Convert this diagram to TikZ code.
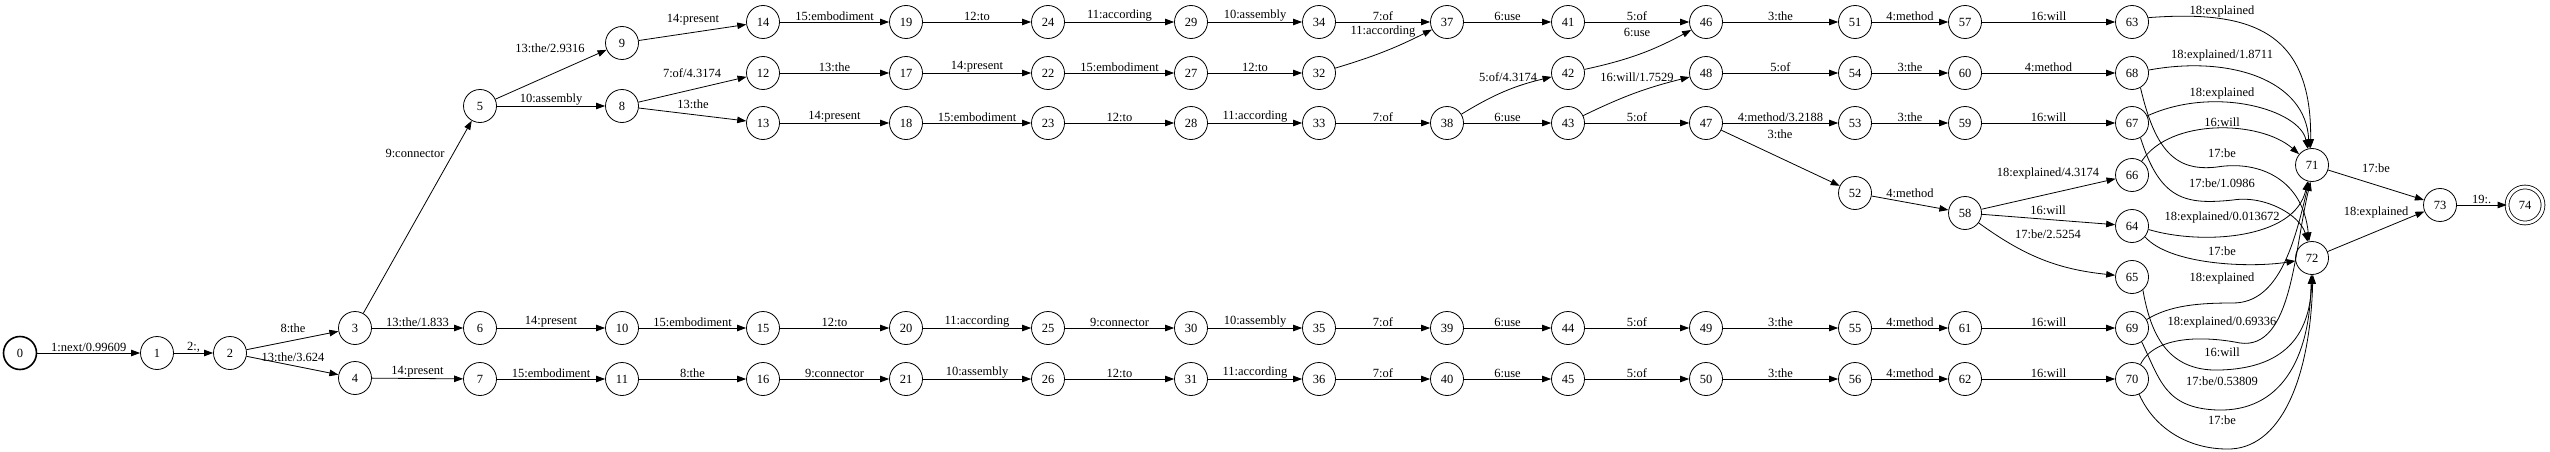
\documentclass[tikz,border=0pt]{standalone}
\usepackage{fontspec}
\setmainfont{Liberation Serif}
\usetikzlibrary{arrows.meta}
\newcommand\fstfont{\fontsize{12.5}{14}\selectfont}
\tikzset{
  st/.style={circle, draw, line width=0.8pt, minimum size=33pt, inner sep=0pt, font=\fstfont},
  tr/.style={-{Triangle[length=9pt,width=6.5pt]}, line width=0.8pt},
  lab/.style={inner sep=0.5pt, font=\fstfont}
}
\begin{document}
\begin{tikzpicture}[x=1pt,y=1pt]
  \useasboundingbox (0,0) rectangle (2550,-452);
  % states
  \node[st, line width=1.6pt] (s0) at (20,-353) {0};
  \node[st] (s1) at (157,-353) {1};
  \node[st] (s2) at (230,-353) {2};
  \node[st] (s3) at (355,-328) {3};
  \node[st] (s4) at (355,-378) {4};
  \node[st] (s5) at (480,-106) {5};
  \node[st] (s6) at (480,-328) {6};
  \node[st] (s7) at (480,-379) {7};
  \node[st] (s8) at (622,-106) {8};
  \node[st] (s9) at (622,-43) {9};
  \node[st] (s10) at (622,-328) {10};
  \node[st] (s11) at (622,-379) {11};
  \node[st] (s12) at (763,-73) {12};
  \node[st] (s13) at (763,-123) {13};
  \node[st] (s14) at (763,-22) {14};
  \node[st] (s15) at (763,-328) {15};
  \node[st] (s16) at (763,-379) {16};
  \node[st] (s17) at (906,-73) {17};
  \node[st] (s18) at (906,-123) {18};
  \node[st] (s19) at (906,-22) {19};
  \node[st] (s20) at (906,-328) {20};
  \node[st] (s21) at (906,-379) {21};
  \node[st] (s22) at (1048,-73) {22};
  \node[st] (s23) at (1048,-123) {23};
  \node[st] (s24) at (1048,-22) {24};
  \node[st] (s25) at (1048,-328) {25};
  \node[st] (s26) at (1048,-379) {26};
  \node[st] (s27) at (1191,-73) {27};
  \node[st] (s28) at (1191,-123) {28};
  \node[st] (s29) at (1191,-22) {29};
  \node[st] (s30) at (1191,-328) {30};
  \node[st] (s31) at (1191,-379) {31};
  \node[st] (s32) at (1319,-73) {32};
  \node[st] (s33) at (1319,-123) {33};
  \node[st] (s34) at (1319,-22) {34};
  \node[st] (s35) at (1319,-328) {35};
  \node[st] (s36) at (1319,-379) {36};
  \node[st] (s37) at (1447,-22) {37};
  \node[st] (s38) at (1447,-123) {38};
  \node[st] (s39) at (1447,-328) {39};
  \node[st] (s40) at (1447,-379) {40};
  \node[st] (s41) at (1568,-22) {41};
  \node[st] (s42) at (1568,-73) {42};
  \node[st] (s43) at (1568,-123) {43};
  \node[st] (s44) at (1568,-328) {44};
  \node[st] (s45) at (1568,-379) {45};
  \node[st] (s46) at (1706,-22) {46};
  \node[st] (s47) at (1706,-123) {47};
  \node[st] (s48) at (1706,-73) {48};
  \node[st] (s49) at (1706,-328) {49};
  \node[st] (s50) at (1706,-379) {50};
  \node[st] (s51) at (1855,-22) {51};
  \node[st] (s52) at (1855,-193) {52};
  \node[st] (s53) at (1855,-123) {53};
  \node[st] (s54) at (1855,-73) {54};
  \node[st] (s55) at (1855,-328) {55};
  \node[st] (s56) at (1855,-379) {56};
  \node[st] (s57) at (1965,-22) {57};
  \node[st] (s58) at (1965,-213) {58};
  \node[st] (s59) at (1965,-123) {59};
  \node[st] (s60) at (1965,-73) {60};
  \node[st] (s61) at (1965,-328) {61};
  \node[st] (s62) at (1965,-379) {62};
  \node[st] (s63) at (2132,-22) {63};
  \node[st] (s64) at (2132,-226) {64};
  \node[st] (s65) at (2132,-277) {65};
  \node[st] (s66) at (2132,-175) {66};
  \node[st] (s67) at (2132,-123) {67};
  \node[st] (s68) at (2132,-73) {68};
  \node[st] (s69) at (2132,-328) {69};
  \node[st] (s70) at (2132,-379) {70};
  \node[st] (s71) at (2312,-165) {71};
  \node[st] (s72) at (2312,-258) {72};
  \node[st] (s73) at (2440,-205) {73};
  \node[st, minimum size=36pt, double, double distance=3pt] (s74) at (2525,-205) {74};
  % start
  \draw[tr] (s0) -- node[lab,above] {1:next/0.99609} (s1);
  \draw[tr] (s1) -- node[lab,above] {2:,} (s2);
  \draw[tr] (s2) -- (s3) node[lab] at (293,-328) {8:the};
  \draw[tr] (s2) -- (s4) node[lab] at (293,-357) {13:the/3.624};
  \draw[tr] (s3) -- (s5) node[lab] at (415,-153) {9:connector};
  \draw[tr] (s3) -- node[lab,above] {13:the/1.833} (s6);
  \draw[tr] (s4) -- node[lab,above] {14:present} (s7);
  \draw[tr] (s5) -- (s9) node[lab] at (550,-48) {13:the/2.9316};
  \draw[tr] (s5) -- node[lab,above] {10:assembly} (s8);
  \draw[tr] (s9) -- (s14) node[lab] at (693,-20) {14:present};
  \draw[tr] (s8) -- (s12) node[lab] at (692,-73) {7:of/4.3174};
  \draw[tr] (s8) -- (s13) node[lab] at (693,-104) {13:the};
  \draw[tr] (s6) -- node[lab,above] {14:present} (s10);
  \draw[tr] (s7) -- node[lab,above] {15:embodiment} (s11);
  \draw[tr] (s14) -- node[lab,above] {15:embodiment} (s19);
  \draw[tr] (s12) -- node[lab,above] {13:the} (s17);
  \draw[tr] (s13) -- node[lab,above] {14:present} (s18);
  \draw[tr] (s10) -- node[lab,above] {15:embodiment} (s15);
  \draw[tr] (s11) -- node[lab,above] {8:the} (s16);
  \draw[tr] (s19) -- node[lab,above] {12:to} (s24);
  \draw[tr] (s17) -- node[lab,above] {14:present} (s22);
  \draw[tr] (s18) -- node[lab,above] {15:embodiment} (s23);
  \draw[tr] (s15) -- node[lab,above] {12:to} (s20);
  \draw[tr] (s16) -- node[lab,above] {9:connector} (s21);
  \draw[tr] (s24) -- node[lab,above] {11:according} (s29);
  \draw[tr] (s22) -- node[lab,above] {15:embodiment} (s27);
  \draw[tr] (s23) -- node[lab,above] {12:to} (s28);
  \draw[tr] (s20) -- node[lab,above] {11:according} (s25);
  \draw[tr] (s21) -- node[lab,above] {10:assembly} (s26);
  \draw[tr] (s29) -- node[lab,above] {10:assembly} (s34);
  \draw[tr] (s27) -- node[lab,above] {12:to} (s32);
  \draw[tr] (s28) -- node[lab,above] {11:according} (s33);
  \draw[tr] (s25) -- node[lab,above] {9:connector} (s30);
  \draw[tr] (s26) -- node[lab,above] {12:to} (s31);
  \draw[tr] (s34) -- node[lab,above] {7:of} (s37);
  \draw[tr] (s32) to[bend right=5] (s37) node[lab] at (1383,-32) {11:according};
  \draw[tr] (s33) -- node[lab,above] {7:of} (s38);
  \draw[tr] (s30) -- node[lab,above] {10:assembly} (s35);
  \draw[tr] (s31) -- node[lab,above] {11:according} (s36);
  \draw[tr] (s37) -- node[lab,above] {6:use} (s41);
  \draw[tr] (s38) to[bend left=9] (s42) node[lab] at (1508,-77) {5:of/4.3174};
  \draw[tr] (s38) -- node[lab,above] {6:use} (s43);
  \draw[tr] (s35) -- node[lab,above] {7:of} (s39);
  \draw[tr] (s36) -- node[lab,above] {7:of} (s40);
  \draw[tr] (s41) -- node[lab,above] {5:of} (s46);
  \draw[tr] (s42) to[bend right=8] (s46) node[lab] at (1637,-32) {6:use};
  \draw[tr] (s43) to[bend left=6] (s48) node[lab] at (1637,-77) {16:will/1.7529};
  \draw[tr] (s43) -- node[lab,above] {5:of} (s47);
  \draw[tr] (s39) -- node[lab,above] {6:use} (s44);
  \draw[tr] (s40) -- node[lab,above] {6:use} (s45);
  \draw[tr] (s44) -- node[lab,above] {5:of} (s49);
  \draw[tr] (s45) -- node[lab,above] {5:of} (s50);
  \draw[tr] (s46) -- node[lab,above] {3:the} (s51);
  \draw[tr] (s48) -- node[lab,above] {5:of} (s54);
  \draw[tr] (s47) -- node[lab,above] {4:method/3.2188} (s53);
  \draw[tr] (s47) -- (s52) node[lab] at (1780,-134) {3:the};
  \draw[tr] (s49) -- node[lab,above] {3:the} (s55);
  \draw[tr] (s50) -- node[lab,above] {3:the} (s56);
  \draw[tr] (s51) -- node[lab,above] {4:method} (s57);
  \draw[tr] (s54) -- node[lab,above] {3:the} (s60);
  \draw[tr] (s53) -- node[lab,above] {3:the} (s59);
  \draw[tr] (s52) -- (s58) node[lab] at (1910,-193) {4:method};
  \draw[tr] (s55) -- node[lab,above] {4:method} (s61);
  \draw[tr] (s56) -- node[lab,above] {4:method} (s62);
  \draw[tr] (s57) -- node[lab,above] {16:will} (s63);
  \draw[tr] (s60) -- node[lab,above] {4:method} (s68);
  \draw[tr] (s59) -- node[lab,above] {16:will} (s67);
  \draw[tr] (s58) -- (s66) node[lab] at (2048,-173) {18:explained/4.3174};
  \draw[tr] (s58) -- (s64) node[lab] at (2048,-210) {16:will};
  \draw[tr] (s58) to[bend right=15] (s65) node[lab] at (2048,-234) {17:be/2.5254};
  \draw[tr] (s61) -- node[lab,above] {16:will} (s69);
  \draw[tr] (s62) -- node[lab,above] {16:will} (s70);
  % fan into 71 and 72
  \draw[tr] (s63.15) .. controls (2250,-10) and (2312,-30) .. (s71.95)
    node[lab] at (2222,-11) {18:explained};
  \draw[tr] (s68.10) .. controls (2230,-55) and (2306,-80) .. (s71.100)
    node[lab] at (2222,-55) {18:explained/1.8711};
  \draw[tr] (s67.25) .. controls (2215,-85) and (2300,-110) .. (s71.105)
    node[lab] at (2222,-93) {18:explained};
  \draw[tr] (s66.55) .. controls (2170,-118) and (2260,-120) .. (s71.140)
    node[lab] at (2222,-122) {16:will};
  \draw[tr] (s68.-60) .. controls (2155,-150) and (2175,-172) .. (2217,-167)
    .. controls (2260,-160) and (2303,-180) .. (s72.100)
    node[lab] at (2222,-153) {17:be};
  \draw[tr] (s67.-60) .. controls (2160,-200) and (2185,-205) .. (2233,-200)
    .. controls (2265,-195) and (2300,-215) .. (s72.105)
    node[lab] at (2222,-183) {17:be/1.0986};
  \draw[tr] (s64.-12) .. controls (2200,-245) and (2295,-240) .. (s71.-105)
    node[lab] at (2222,-217) {18:explained/0.013672};
  \draw[tr] (s64.-40) .. controls (2170,-265) and (2250,-268) .. (s72.190)
    node[lab] at (2222,-251) {17:be};
  \draw[tr] (s69.30) .. controls (2170,-305) and (2200,-303) .. (2233,-303)
    .. controls (2280,-303) and (2295,-240) .. (s71.-100)
    node[lab] at (2222,-278) {18:explained};
  \draw[tr] (s70.60) .. controls (2155,-335) and (2205,-336) .. (2240,-343)
    .. controls (2292,-350) and (2294,-250) .. (s71.-95)
    node[lab] at (2222,-322) {18:explained/0.69336};
  \draw[tr] (s65.-50) .. controls (2150,-330) and (2165,-372) .. (2220,-370)
    .. controls (2290,-368) and (2310,-330) .. (s72.-90)
    node[lab] at (2222,-352) {16:will};
  \draw[tr] (s69.-55) .. controls (2160,-380) and (2165,-408) .. (2217,-410)
    .. controls (2280,-412) and (2310,-360) .. (s72.-93)
    node[lab] at (2222,-381) {17:be/0.53809};
  \draw[tr] (s70.-65) .. controls (2155,-430) and (2190,-449) .. (2227,-449)
    .. controls (2280,-450) and (2310,-380) .. (s72.-87)
    node[lab] at (2222,-420) {17:be};
  % end
  \draw[tr] (s71) -- (s73) node[lab] at (2376,-168) {17:be};
  \draw[tr] (s72) -- (s73) node[lab] at (2376,-212) {18:explained};
  \draw[tr] (s73) -- node[lab,above] {19:.} (s74);
\end{tikzpicture}
\end{document}
